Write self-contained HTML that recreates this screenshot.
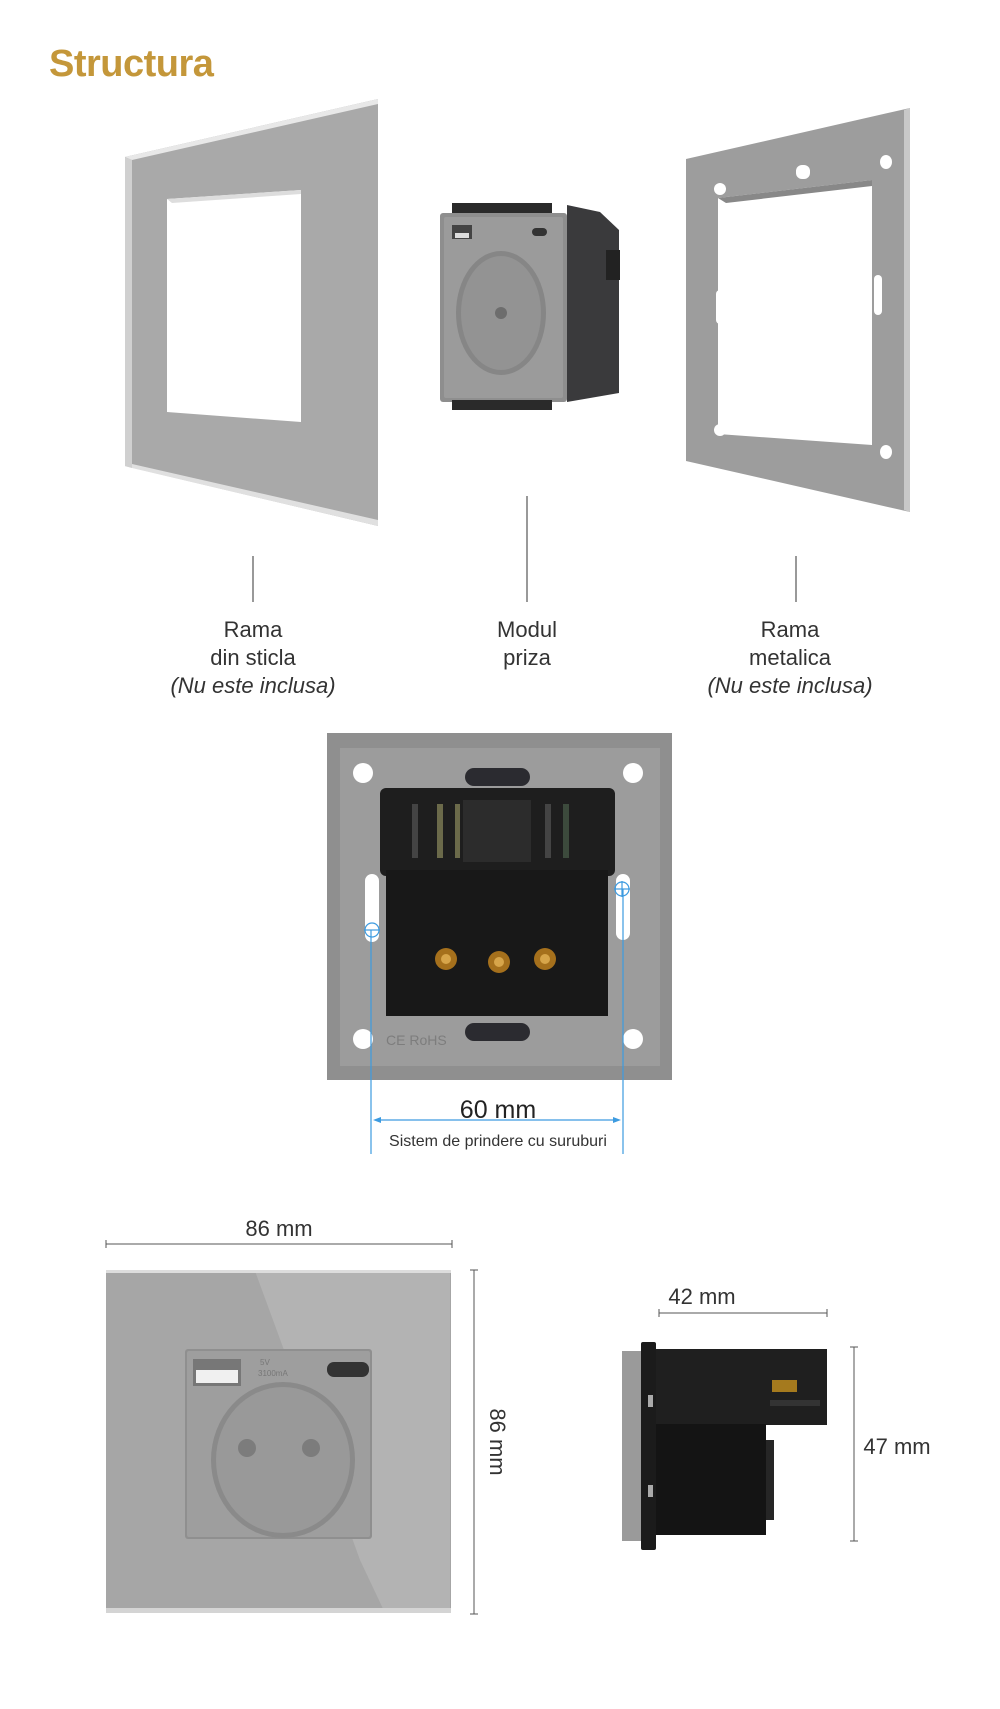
<!DOCTYPE html>
<html><head><meta charset="utf-8"><style>
html,body{margin:0;padding:0;background:#fff;}
body{width:1000px;height:1709px;overflow:hidden;}
svg{display:block}
text{font-family:"Liberation Sans",sans-serif;}
</style></head><body>
<svg width="1000" height="1709" viewBox="0 0 1000 1709" xmlns="http://www.w3.org/2000/svg">
<text x="49" y="76" font-size="38" font-weight="bold" fill="#c4973a" letter-spacing="-0.5">Structura</text>

<!-- glass frame -->
<polygon points="125,157 378,99 378,526 125,466" fill="#a9a9a9"/>
<polygon points="125,157 378,99 378,104 132,160" fill="#e8e8e8"/>
<polygon points="125,157 132,160 132,468 125,466" fill="#d0d0d0"/>
<polygon points="132,468 378,526 378,520 132,464" fill="#e0e0e0"/>
<polygon points="167,199 301,190 301,422 167,412" fill="#fff"/>
<polygon points="167,199 301,190 301,194 172,203" fill="#ddd"/>

<!-- module -->
<polygon points="567,205 600,212 619,230 619,393 567,402" fill="#3a3a3c"/>
<rect x="606" y="250" width="14" height="30" fill="#222"/>
<rect x="440" y="213" width="127" height="189" rx="3" fill="#8e8e8e"/>
<rect x="444" y="217" width="119" height="181" rx="2" fill="#9b9b9b"/>
<ellipse cx="501" cy="313" rx="45" ry="62" fill="#868686"/>
<ellipse cx="501" cy="313" rx="40" ry="57" fill="#939393"/>
<circle cx="501" cy="313" r="6" fill="#6d6d6d"/>
<rect x="452" y="225" width="20" height="14" fill="#444"/>
<rect x="455" y="233" width="14" height="5" fill="#ddd"/>
<rect x="532" y="228" width="15" height="8" rx="4" fill="#333"/>
<rect x="452" y="400" width="100" height="10" fill="#2a2a2a"/>
<rect x="452" y="203" width="100" height="10" fill="#2a2a2a"/>

<!-- metal frame -->
<polygon points="686,159 910,108 910,512 686,461" fill="#9d9d9d"/>
<polygon points="904,110 910,108 910,512 904,510" fill="#c8c8c8"/>
<polygon points="718,198 872,180 872,445 718,434" fill="#fff"/>
<polygon points="718,198 872,180 872,186 726,203" fill="#888"/>
<ellipse cx="720" cy="189" rx="6" ry="6" fill="#fff"/>
<ellipse cx="886" cy="162" rx="6" ry="7" fill="#fff"/>
<ellipse cx="720" cy="430" rx="6" ry="6" fill="#fff"/>
<ellipse cx="886" cy="452" rx="6" ry="7" fill="#fff"/>
<rect x="796" y="165" width="14" height="14" rx="6" fill="#fff"/>
<rect x="776" y="420" width="20" height="12" rx="6" fill="#fff"/>
<rect x="716" y="290" width="8" height="34" rx="4" fill="#fff"/>
<rect x="874" y="275" width="8" height="40" rx="4" fill="#fff"/>

<!-- leader lines -->
<line x1="253" y1="556" x2="253" y2="602" stroke="#333" stroke-width="1"/>
<line x1="527" y1="496" x2="527" y2="602" stroke="#333" stroke-width="1"/>
<line x1="796" y1="556" x2="796" y2="602" stroke="#333" stroke-width="1"/>
<g font-size="22" fill="#333" text-anchor="middle">
<text x="253" y="637">Rama</text>
<text x="253" y="665">din sticla</text>
<text x="253" y="693" font-style="italic">(Nu este inclusa)</text>
<text x="527" y="637">Modul</text>
<text x="527" y="665">priza</text>
<text x="790" y="637">Rama</text>
<text x="790" y="665">metalica</text>
<text x="790" y="693" font-style="italic">(Nu este inclusa)</text>
</g>

<!-- back plate -->
<rect x="327" y="733" width="345" height="347" fill="#8f8f8f"/>
<rect x="340" y="748" width="320" height="318" fill="#9c9c9c"/>
<circle cx="363" cy="773" r="10" fill="#fff"/>
<circle cx="633" cy="773" r="10" fill="#fff"/>
<circle cx="363" cy="1039" r="10" fill="#fff"/>
<circle cx="633" cy="1039" r="10" fill="#fff"/>
<rect x="365" y="874" width="14" height="68" rx="7" fill="#fff"/>
<rect x="616" y="874" width="14" height="66" rx="7" fill="#fff"/>
<rect x="465" y="768" width="65" height="18" rx="9" fill="#2b2b30"/>
<rect x="465" y="1023" width="65" height="18" rx="9" fill="#2b2b30"/>
<rect x="380" y="788" width="235" height="88" rx="6" fill="#1e1e1e"/>
<rect x="386" y="870" width="222" height="146" fill="#181818"/>
<rect x="463" y="800" width="68" height="62" fill="#2c2c2c"/>
<rect x="412" y="804" width="6" height="54" fill="#444"/>
<rect x="437" y="804" width="6" height="54" fill="#6b6a4a"/>
<rect x="455" y="804" width="5" height="54" fill="#6b6a4a"/>
<rect x="545" y="804" width="6" height="54" fill="#444"/>
<rect x="563" y="804" width="6" height="54" fill="#3c4a3c"/>
<circle cx="446" cy="959" r="11" fill="#a5701c"/>
<circle cx="499" cy="962" r="11" fill="#a5701c"/>
<circle cx="545" cy="959" r="11" fill="#a5701c"/>
<circle cx="446" cy="959" r="5" fill="#d7a54a"/>
<circle cx="499" cy="962" r="5" fill="#d7a54a"/>
<circle cx="545" cy="959" r="5" fill="#d7a54a"/>
<text x="386" y="1045" font-size="14" fill="#7d7d7d">CE RoHS</text>
<!-- blue dims -->
<g stroke="#3d9be0" stroke-width="1.2" fill="none">
<line x1="371" y1="930" x2="371" y2="1154"/>
<line x1="623" y1="889" x2="623" y2="1154"/>
<circle cx="372" cy="930" r="7"/><line x1="364" y1="930" x2="380" y2="930"/>
<circle cx="622" cy="889" r="7"/><line x1="614" y1="889" x2="630" y2="889"/>
<line x1="622" y1="881" x2="622" y2="897"/>
<line x1="376" y1="1120" x2="618" y2="1120"/>
</g>
<polygon points="373,1120 381,1117 381,1123" fill="#3d9be0"/>
<polygon points="621,1120 613,1117 613,1123" fill="#3d9be0"/>
<text x="498" y="1118" font-size="25" fill="#222" text-anchor="middle">60 mm</text>
<text x="498" y="1146" font-size="16" fill="#333" text-anchor="middle">Sistem de prindere cu suruburi</text>

<!-- front view -->
<text x="279" y="1236" font-size="22" fill="#333" text-anchor="middle">86 mm</text>
<line x1="106" y1="1244" x2="452" y2="1244" stroke="#555" stroke-width="1"/>
<line x1="106" y1="1240" x2="106" y2="1248" stroke="#555"/>
<line x1="452" y1="1240" x2="452" y2="1248" stroke="#555"/>
<rect x="106" y="1270" width="345" height="343" rx="3" fill="#a6a6a6"/>
<polygon points="255,1271 450,1271 450,1613 385,1613 360,1560 295,1380" fill="#b3b3b3"/>
<rect x="106" y="1270" width="345" height="3" fill="#ddd"/>
<rect x="106" y="1608" width="345" height="5" fill="#d4d4d4"/>
<rect x="185" y="1349" width="187" height="190" rx="3" fill="#8f8f8f"/>
<rect x="187" y="1351" width="183" height="186" rx="2" fill="#9e9e9e"/>
<ellipse cx="283" cy="1460" rx="72" ry="78" fill="#8a8a8a"/>
<ellipse cx="283" cy="1460" rx="67" ry="73" fill="#999"/>
<circle cx="247" cy="1448" r="9" fill="#7c7c7c"/>
<circle cx="311" cy="1448" r="9" fill="#7c7c7c"/>
<rect x="193" y="1359" width="48" height="27" fill="#777"/>
<rect x="196" y="1370" width="42" height="13" fill="#f0f0f0"/>
<rect x="327" y="1362" width="42" height="15" rx="7" fill="#333"/>
<text x="260" y="1365" font-size="8" fill="#777">5V</text>
<text x="258" y="1376" font-size="8" fill="#777">3100mA</text>
<line x1="474" y1="1270" x2="474" y2="1614" stroke="#555" stroke-width="1"/>
<line x1="470" y1="1270" x2="478" y2="1270" stroke="#555"/>
<line x1="470" y1="1614" x2="478" y2="1614" stroke="#555"/>
<text x="0" y="0" font-size="22" fill="#333" text-anchor="middle" transform="translate(490,1442) rotate(90)">86 mm</text>

<!-- side view -->
<text x="702" y="1304" font-size="22" fill="#333" text-anchor="middle">42 mm</text>
<line x1="659" y1="1313" x2="827" y2="1313" stroke="#555" stroke-width="1"/>
<line x1="659" y1="1309" x2="659" y2="1317" stroke="#555"/>
<line x1="827" y1="1309" x2="827" y2="1317" stroke="#555"/>
<rect x="622" y="1351" width="20" height="190" fill="#9a9a9a"/>
<rect x="641" y="1342" width="15" height="208" rx="2" fill="#1b1b1b"/>
<rect x="656" y="1349" width="171" height="76" fill="#1f1f1f"/>
<rect x="656" y="1424" width="110" height="111" fill="#141414"/>
<rect x="766" y="1440" width="8" height="80" fill="#262626"/>
<rect x="772" y="1380" width="25" height="12" fill="#a57a1e"/>
<rect x="770" y="1400" width="50" height="6" fill="#333"/>
<rect x="648" y="1395" width="5" height="12" fill="#aaa"/>
<rect x="648" y="1485" width="5" height="12" fill="#aaa"/>
<line x1="854" y1="1347" x2="854" y2="1541" stroke="#555" stroke-width="1"/>
<line x1="850" y1="1347" x2="858" y2="1347" stroke="#555"/>
<line x1="850" y1="1541" x2="858" y2="1541" stroke="#555"/>
<text x="897" y="1454" font-size="22" fill="#333" text-anchor="middle">47 mm</text>
</svg>
</body></html>
